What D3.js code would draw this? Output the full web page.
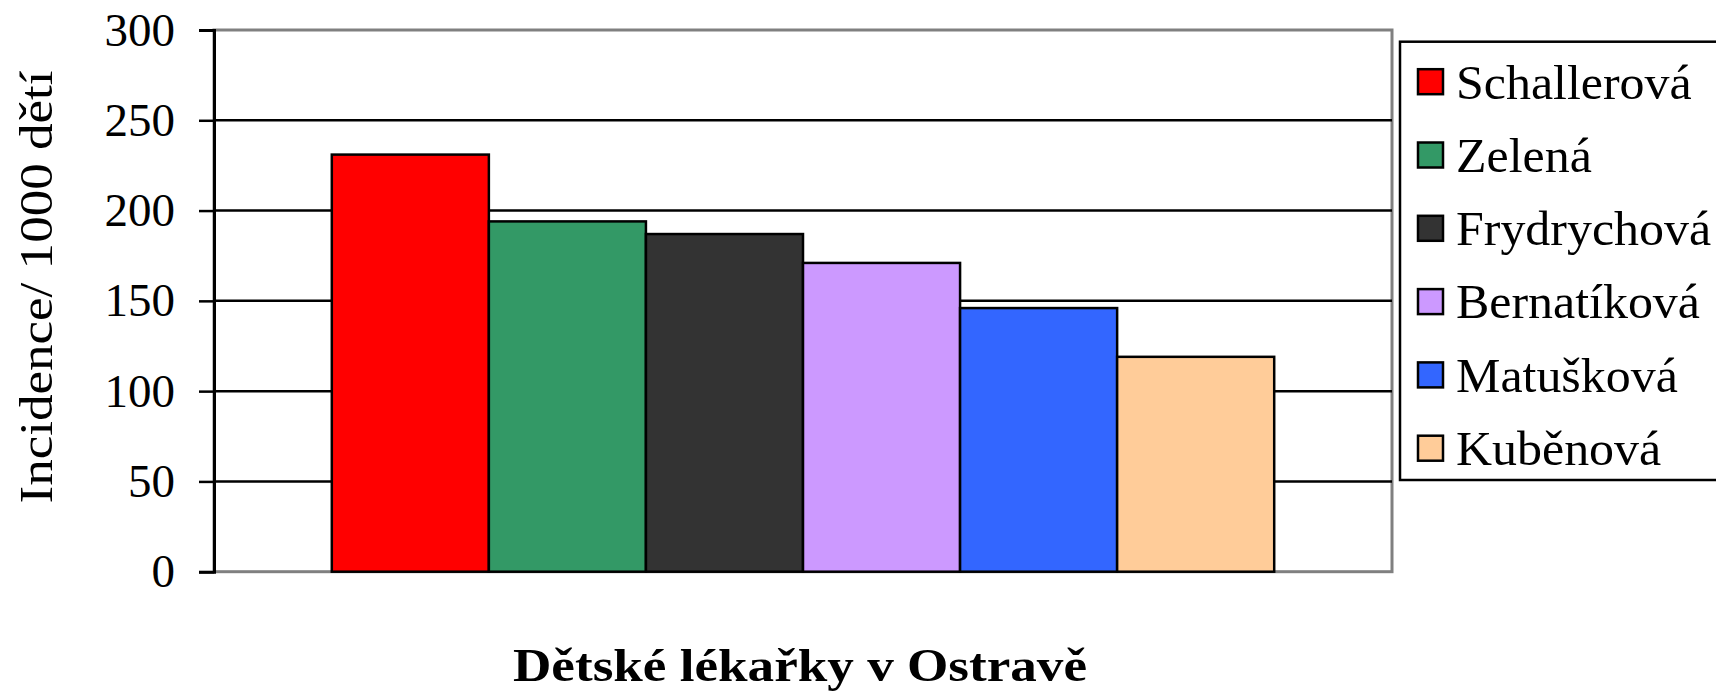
<!DOCTYPE html>
<html>
<head>
<meta charset="utf-8">
<script src="https://cdn.jsdelivr.net/npm/d3@7"></script>
<style>
  html, body { margin: 0; padding: 0; background: #fff; overflow: hidden; }
  text { font-family: "Palatino Linotype", "Book Antiqua", Palatino, "Liberation Serif", serif; fill: #000; }
</style>
</head>
<body>
<div id="app"></div>
<script>
// data
const doctors = ["Schallerová", "Zelená", "Frydrychová", "Bernatíková", "Matušková", "Kuběnová"];
const incidence = [231, 194, 187, 171, 146, 119];
const colorsList = ["#ff0000", "#339966", "#333333", "#cc99ff", "#3366ff", "#ffcc99"];
const yTicks = [0, 50, 100, 150, 200, 250, 300];

const W = 1716, H = 694;
const plot = { left: 214, right: 1392, top: 30, bottom: 571.7 };

const svg = d3.select("#app")
  .append("svg")
  .attr("width", W)
  .attr("height", H);

const y = d3.scaleLinear().domain([0, 300]).range([plot.bottom, plot.top]);
const x = d3.scaleBand()
  .domain(doctors)
  .range([plot.left, plot.right])
  .paddingInner(0)
  .paddingOuter(0.75);
const color = d3.scaleOrdinal().domain(doctors).range(colorsList);

// plot area border (grey)
svg.append("rect")
  .attr("x", plot.left).attr("y", plot.top)
  .attr("width", plot.right - plot.left)
  .attr("height", plot.bottom - plot.top)
  .attr("fill", "none")
  .attr("stroke", "#808080")
  .attr("stroke-width", 3);

// gridlines
svg.append("g")
  .selectAll("line")
  .data(yTicks.filter(d => d > 0 && d < 300))
  .enter()
  .append("line")
  .attr("x1", plot.left).attr("x2", plot.right)
  .attr("y1", d => y(d)).attr("y2", d => y(d))
  .attr("stroke", "#000")
  .attr("stroke-width", 2.5);

// bars
svg.append("g")
  .selectAll("rect")
  .data(doctors)
  .enter()
  .append("rect")
  .attr("x", d => x(d))
  .attr("y", (d, i) => y(incidence[i]))
  .attr("width", x.bandwidth())
  .attr("height", (d, i) => y(0) - y(incidence[i]))
  .attr("fill", d => color(d))
  .attr("stroke", "#000")
  .attr("stroke-width", 2.5);

// y axis
const yAxis = d3.axisLeft(y).tickValues(yTicks).tickSize(15).tickPadding(24).tickFormat(d3.format("d"));
const gy = svg.append("g")
  .attr("transform", `translate(${plot.left},0)`)
  .call(yAxis);
gy.select(".domain").attr("stroke", "#000").attr("stroke-width", 3);
gy.selectAll(".tick line").attr("stroke", "#000").attr("stroke-width", 2.5);
gy.selectAll(".tick text")
  .attr("font-size", 47)
  .attr("fill", "#000")
  .style("font-family", '"Palatino Linotype", "Book Antiqua", Palatino, "Liberation Serif", serif');

// y axis title
svg.append("text")
  .attr("transform", `translate(52,287) rotate(-90)`)
  .attr("text-anchor", "middle")
  .attr("font-size", 47)
  .attr("textLength", 433)
  .attr("lengthAdjust", "spacingAndGlyphs")
  .text("Incidence/ 1000 dětí");

// x axis title
svg.append("text")
  .attr("x", 800)
  .attr("y", 681)
  .attr("text-anchor", "middle")
  .attr("font-size", 46)
  .attr("font-weight", "bold")
  .attr("textLength", 574)
  .attr("lengthAdjust", "spacingAndGlyphs")
  .text("Dětské lékařky v Ostravě");

// legend
const legend = svg.append("g");
legend.append("rect")
  .attr("x", 1400).attr("y", 41.7)
  .attr("width", 340).attr("height", 438.3)
  .attr("fill", "#fff")
  .attr("stroke", "#000")
  .attr("stroke-width", 2.5);

const item = legend.selectAll("g.item")
  .data(doctors)
  .enter()
  .append("g")
  .attr("class", "item")
  .attr("transform", (d, i) => `translate(0,${81.7 + i * 73.3})`);

item.append("rect")
  .attr("x", 1418).attr("y", -12.5)
  .attr("width", 25).attr("height", 25)
  .attr("fill", d => color(d))
  .attr("stroke", "#000")
  .attr("stroke-width", 2.5);

// legend labels, stretched a little to match the wider original face
item.append("text")
  .attr("x", 1456)
  .attr("y", 0)
  .attr("dy", "0.35em")
  .attr("font-size", 48)
  .text(d => d)
  .each(function () {
    const t = d3.select(this);
    const w = this.getComputedTextLength();
    t.attr("textLength", w * 1.04).attr("lengthAdjust", "spacingAndGlyphs");
  });
</script>
</body>
</html>
